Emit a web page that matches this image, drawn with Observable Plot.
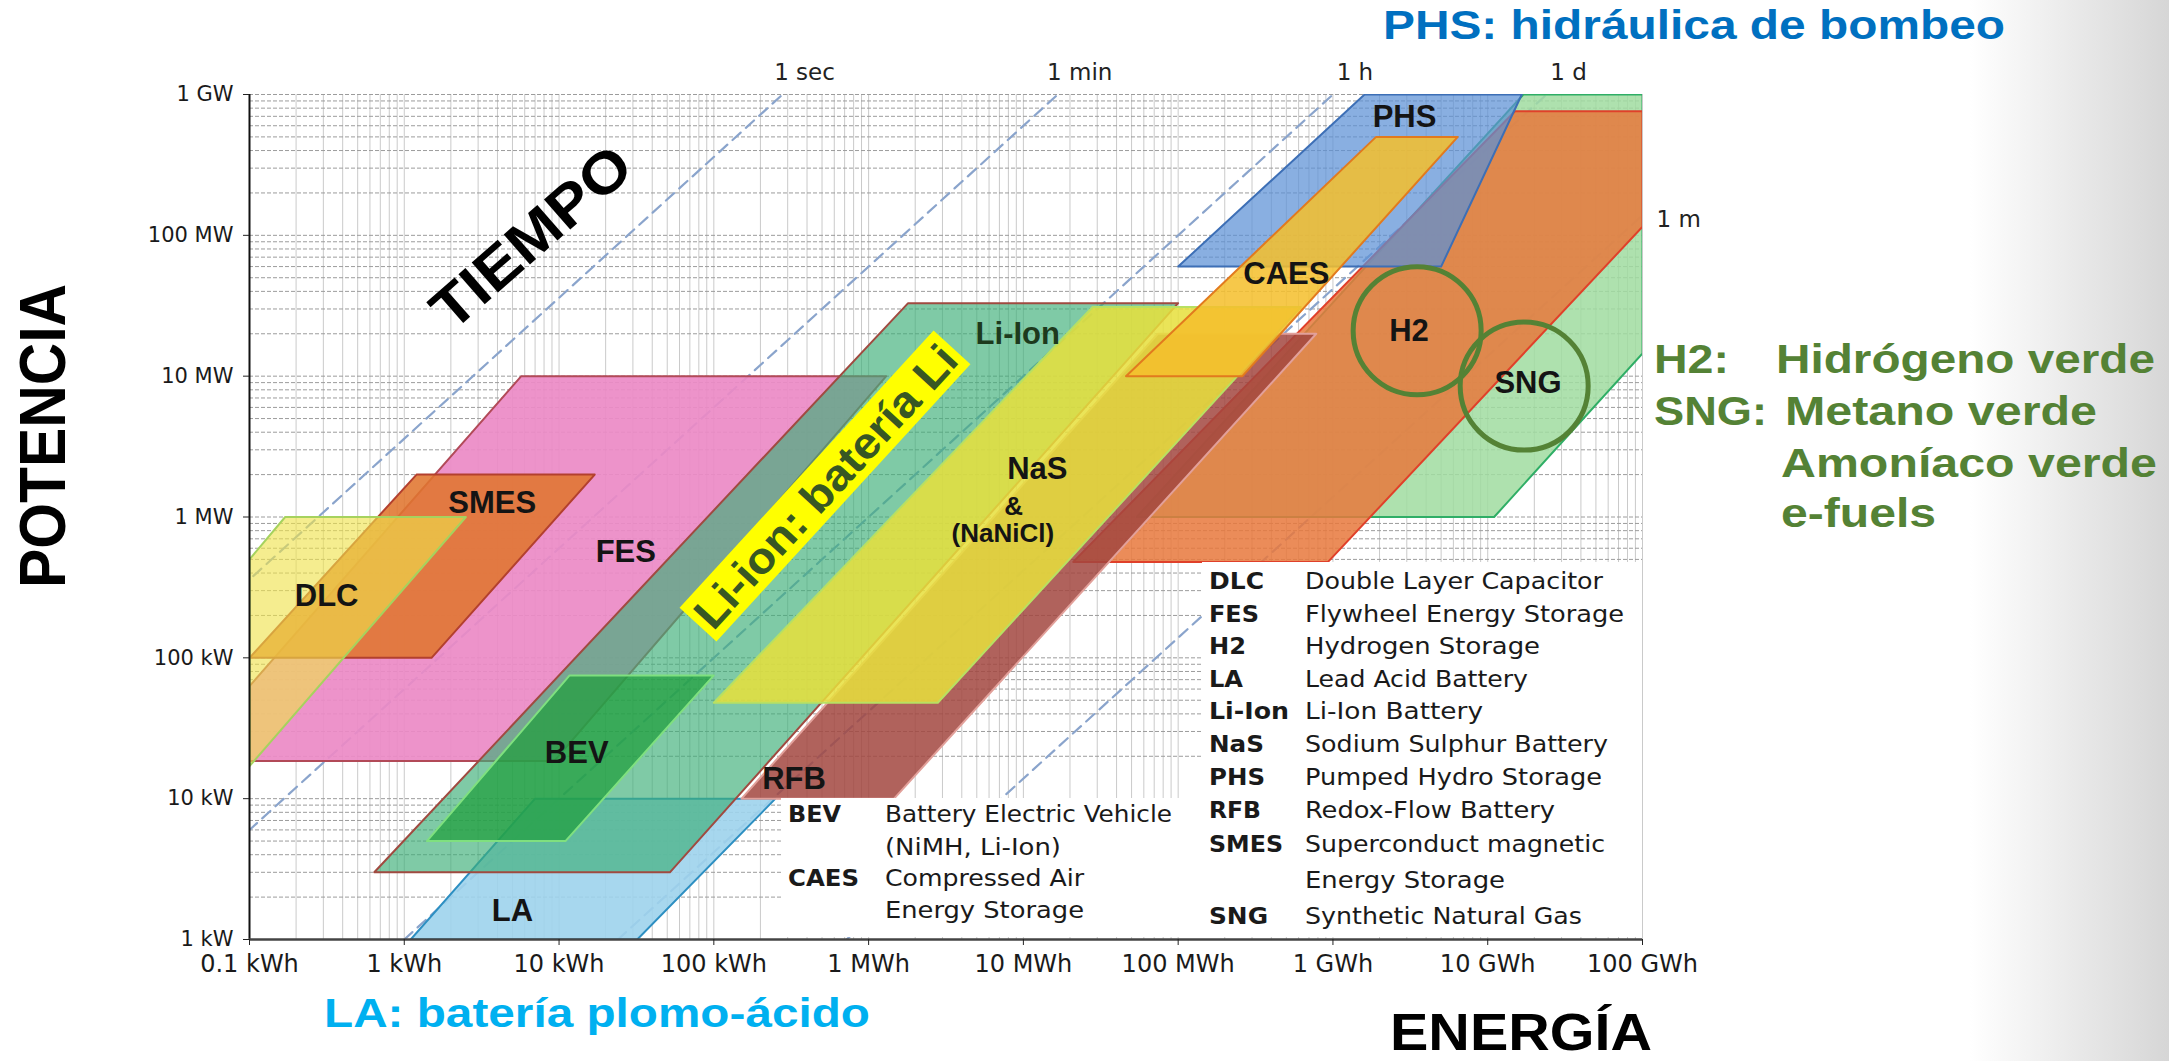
<!DOCTYPE html>
<html><head><meta charset="utf-8">
<script src="https://cdn.jsdelivr.net/npm/d3@7"></script>
<script src="https://cdn.jsdelivr.net/npm/@observablehq/plot@0.6"></script>
<style>
html,body{margin:0;padding:0;}
body{width:2169px;height:1061px;overflow:hidden;background:linear-gradient(to right,#ffffff 0px,#ffffff 1970px,#d6d6d6 2169px);font-family:"Liberation Sans",Arial,sans-serif;}
#wrap{position:relative;width:2169px;height:1061px;}
#wrap svg{position:absolute;left:0;top:0;}
</style></head><body><div id="wrap"></div>
<script>
// ---------- DATA (energy in kWh, power in kW) ----------
const energyTicks = [0.1, 1, 10, 100, 1e3, 1e4, 1e5, 1e6, 1e7, 1e8];
const energyTickLabels = ["0.1 kWh","1 kWh","10 kWh","100 kWh","1 MWh","10 MWh","100 MWh","1 GWh","10 GWh","100 GWh"];
const powerTicks = [1, 10, 100, 1e3, 1e4, 1e5, 1e6];
const powerTickLabels = ["1 kW","10 kW","100 kW","1 MW","10 MW","100 MW","1 GW"];

// technology regions: vertices [energy kWh, power kW]
const SNG  = [[5.4e4,1000],[1.1e7,1000],[1e8,1.45e4],[1e8,1e6],[1.7e7,1e6]];
const H2   = [[1.5e7,7.6e5],[1e8,7.6e5],[1e8,1.15e5],[9.3e5,480],[2.1e4,480]];
const PHS  = [[1e5,6e4],[5e6,6e4],[1.66e7,1e6],[1.6e6,1e6]];
const LA   = [[1.1,1],[32,1],[250,10],[7,10]];
const FES  = [[5.7,1e4],[1300,1e4],[9.3,18.5],[0.1,18.5],[0.1,63]];
const SMES = [[1.2,2000],[17,2000],[1.5,100],[0.1,100]];
const DLC  = [[0.17,1000],[2.5,1000],[0.1,17],[0.1,500]];
const LiIon= [[1800,3.3e4],[1e5,3.3e4],[52,3],[0.64,3]];
const BEV  = [[11.7,75],[100,75],[11,5],[1.4,5]];
const RFB  = [[151,10],[1460,10],[7.8e5,2e4],[7.4e4,2e4]];
const NaS  = [[100,48],[2800,48],[6.2e5,3.1e4],[2.8e4,3.1e4]];
const CAES = [[4.6e4,1e4],[2.6e5,1e4],[6.4e6,5e5],[1.9e6,5e5]];

// region labels
const labelNames  = ["DLC","SMES","FES","BEV","LA","RFB","NaS","CAES","PHS","H2","SNG"];
const labelEnergy = [0.315, 3.7, 27, 13, 5, 330, 12300, 5e5, 2.9e6, 3.1e6, 1.82e7];
const labelPower  = [275, 1250, 560, 21, 1.6, 13.8, 2200, 5.3e4, 6.9e5, 2.09e4, 8950];
const subLabelNames  = ["&","(NaNiCl)"];
const subLabelEnergy = [8650, 7360];
const subLabelPower  = [1180, 767];
const liLabel = {name:"Li-Ion", e:9200, p:2e4};

// highlight circles (H2, SNG)
const circleEnergy = [3.5e6, 1.72e7];
const circlePower  = [2.1e4, 8500];

// discharge-time reference lines (hours)
const timeNames = ["1 sec","1 min","1 h","1 d","1 m"];
const timeHours = [1/3600, 1/60, 1, 24, 720];

// legend texts
const legendAbbr = ["DLC","FES","H2","LA","Li-Ion","NaS","PHS","RFB","SMES","","SNG"];
const legendDesc = ["Double Layer Capacitor","Flywheel Energy Storage","Hydrogen Storage","Lead Acid Battery","Li-Ion Battery","Sodium Sulphur Battery","Pumped Hydro Storage","Redox-Flow Battery","Superconduct magnetic","Energy Storage","Synthetic Natural Gas"];
const legend2Abbr = ["BEV","","CAES",""];
const legend2Desc = ["Battery Electric Vehicle","(NiMH, Li-Ion)","Compressed Air","Energy Storage"];

// ---------- BUILD ----------
const toPts = (arr, name) => arr.map(([e,p]) => ({name, e, p}));
const decadesX = d3.range(-1, 8), decadesY = d3.range(0, 6);
const xGrid = decadesX.flatMap(d => d3.range(1,10).map(m => m * Math.pow(10,d))).concat([1e8]);
const yGrid = decadesY.flatMap(d => d3.range(1,10).map(m => m * Math.pow(10,d))).concat([1e6]);

const regionStyles = [
  ["SNG", SNG,  "#a0dca0", 0.85, "#2fae66"],
  ["H2",  H2,   "#e8783c", 0.85, "#e0402a"],
  ["PHS", PHS,  "#5b90d6", 0.72, "#3d6fb6"],
  ["LA",  LA,   "#9dd3ec", 0.9,  "#2d8fc2"],
  ["FES", FES,  "#ec8ac6", 0.92, "#b24a58"],
  ["SMES",SMES, "#e0752f", 0.88, "#b3402e"],
  ["DLC", DLC,  "#efe24a", 0.62, "#a6d25e"],
  ["LiIon",LiIon,"#3cae78", 0.66, "#a04a40"],
  ["BEV", BEV,  "#1f9e3c", 0.72, "#7fe07f"],
  ["RFB", RFB,  "#a2473f", 0.85, "#e2a09a"],
  ["NaS", NaS,  "#e7df3c", 0.86, "#b8e062"],
  ["CAES",CAES, "#f5bf2c", 0.86, "#e27a1e"]
];

const timeLines = timeNames.flatMap((name,i) => [
  {name, e: 1 * timeHours[i], p: 1},
  {name, e: 1e6 * timeHours[i], p: 1e6}
]);
const timeTop = timeNames.map((name,i)=>({name, e:1e6*timeHours[i], p:1e6})).filter(d => d.e <= 1e8);
const timeRight = timeNames.map((name,i)=>({name, e:1e8, p:1e8/timeHours[i]})).filter(d => d.p < 1e6);

const labels = labelNames.map((name,i)=>({name, e:labelEnergy[i], p:labelPower[i]}));
const subLabels = subLabelNames.map((name,i)=>({name, e:subLabelEnergy[i], p:subLabelPower[i]}));
const circles = circleEnergy.map((e,i)=>({e, p:circlePower[i]}));

const marks = [
  Plot.ruleX(xGrid, {stroke:"#cacaca", strokeWidth:1}),
  Plot.ruleY(yGrid, {stroke:"#9c9c9c", strokeWidth:1, strokeDasharray:"4,2"}),
  Plot.line(timeLines, {x:"e", y:"p", z:"name", stroke:"#8aa4cc", strokeWidth:2.2, strokeDasharray:"11,7", clip:true})
];
for (const [name, arr, fill, op, stroke] of regionStyles) {
  marks.push(Plot.line(toPts(arr,name), {x:"e", y:"p", curve:"linear-closed", fill, fillOpacity:op, stroke, strokeWidth:2, clip:true}));
}
marks.push(
  Plot.ruleX([0.1], {stroke:"#111", strokeWidth:2}),
  Plot.ruleY([1], {stroke:"#444", strokeWidth:2.5}),
  Plot.dot(circles, {x:"e", y:"p", r:64, stroke:"#548235", strokeWidth:5, fill:"none"}),
  Plot.text(labels, {x:"e", y:"p", text:"name", fontSize:31, fontWeight:"bold", fill:"#141414"}),
  Plot.text(subLabels, {x:"e", y:"p", text:"name", fontSize:26, fontWeight:"bold", fill:"#141414"}),
  Plot.text([liLabel], {x:"e", y:"p", text:"name", fontSize:31, fontWeight:"bold", fill:"#1d3a1d"}),
  Plot.text(timeTop, {x:"e", y:"p", text:"name", fontSize:23, fontFamily:"DejaVu Sans", fill:"#222", dx:22, dy:-22}),
  Plot.text(timeRight, {x:"e", y:"p", text:"name", fontSize:23, fontFamily:"DejaVu Sans", fill:"#222", textAnchor:"start", dx:14, dy:4}),
  Plot.axisX({ticks:energyTicks, tickFormat:d => energyTickLabels[energyTicks.indexOf(d)], tickSize:6, tickPadding:9, fontSize:24, fontFamily:"DejaVu Sans", fill:"#1a1a1a", label:null}),
  Plot.axisY({ticks:powerTicks, tickFormat:d => powerTickLabels[powerTicks.indexOf(d)], tickSize:6, tickPadding:10, fontSize:21, fontFamily:"DejaVu Sans", fill:"#1a1a1a", label:null})
);

const chart = Plot.plot({
  width:2169, height:1061,
  marginLeft:249, marginRight:527, marginTop:94, marginBottom:122,
  x:{type:"log", domain:[0.1,1e8]},
  y:{type:"log", domain:[1,1e6]},
  style:{background:"transparent", overflow:"visible", fontFamily:"Liberation Sans, Arial, sans-serif", color:"#222"},
  marks
});
document.getElementById("wrap").appendChild(chart);

// ---------- OVERLAY: legend boxes and annotations ----------
const ov = d3.create("svg").attr("width",2169).attr("height",1061).style("overflow","visible");
function T(x, y, s, o={}) {
  const t = ov.append("text").attr("x",x).attr("y",y).text(s)
    .attr("font-family", o.family || "Liberation Sans, Arial, sans-serif")
    .attr("font-size", o.size || 20).attr("font-weight", o.weight || "normal")
    .attr("fill", o.fill || "#111").attr("text-anchor", o.anchor || "start");
  if (o.len) t.attr("textLength", o.len).attr("lengthAdjust","spacingAndGlyphs");
  if (o.transform) t.attr("transform", o.transform);
  return t;
}
// legend boxes
ov.append("rect").attr("x",1202).attr("y",562).attr("width",440).attr("height",375).attr("fill","#fff");
ov.append("rect").attr("x",781).attr("y",798).attr("width",422).attr("height",139).attr("fill","#fff");
const legY = [589,622,654,687,719,752,785,818,852,888,924];
const legAbbrLen = [55,50,37,34,80,55,56,52,74,0,59];
const legDescLen = [298,319,235,223,178,303,297,250,300,200,277];
legendAbbr.forEach((s,i)=>{ if(s) T(1209, legY[i], s, {family:"DejaVu Sans Condensed, DejaVu Sans", size:23, weight:"bold", fill:"#1a1a1a", len:legAbbrLen[i]}); });
legendDesc.forEach((s,i)=> T(1305, legY[i], s, {family:"DejaVu Sans Condensed, DejaVu Sans", size:23, fill:"#1a1a1a", len:legDescLen[i]}));
const leg2Y = [822,855,886,918];
const leg2AbbrLen = [53,0,71,0];
const leg2DescLen = [287,176,199,199];
legend2Abbr.forEach((s,i)=>{ if(s) T(788, leg2Y[i], s, {family:"DejaVu Sans Condensed, DejaVu Sans", size:23, weight:"bold", fill:"#1a1a1a", len:leg2AbbrLen[i]}); });
legend2Desc.forEach((s,i)=> T(885, leg2Y[i], s, {family:"DejaVu Sans Condensed, DejaVu Sans", size:23, fill:"#1a1a1a", len:leg2DescLen[i]}));

// Li-ion highlighted label
const g = ov.append("g").attr("transform","translate(825,486) rotate(-47.5)");
g.append("rect").attr("x",-188).attr("y",-25).attr("width",376).attr("height",50).attr("fill","#ffff00");
g.append("text").attr("x",0).attr("y",16).attr("text-anchor","middle").attr("font-family","Liberation Sans, Arial, sans-serif")
  .attr("font-size",44).attr("font-weight","bold").attr("fill","#385723")
  .attr("textLength",366).attr("lengthAdjust","spacingAndGlyphs").text("Li-ion: batería Li");

// axis titles / annotations
T(0,0,"POTENCIA",{size:64, weight:"bold", fill:"#000", anchor:"middle", len:304, transform:"translate(65,436) rotate(-90)"});
T(0,0,"TIEMPO",{size:58, weight:"bold", fill:"#000", anchor:"middle", len:245, transform:"translate(531,237) rotate(-41.2) translate(0,20)"});
T(1390,1050,"ENERGÍA",{size:52, weight:"bold", fill:"#000", len:262});
T(324,1027,"LA: batería plomo-ácido",{size:41, weight:"bold", fill:"#00b0f0", len:546});
T(1383,39,"PHS: hidráulica de bombeo",{size:41, weight:"bold", fill:"#0070c0", len:622});
T(1654,373,"H2:",{size:41, weight:"bold", fill:"#548235", len:75});
T(1776,373,"Hidrógeno verde",{size:41, weight:"bold", fill:"#548235", len:379});
T(1654,425,"SNG:",{size:41, weight:"bold", fill:"#548235", len:113});
T(1785,425,"Metano verde",{size:41, weight:"bold", fill:"#548235", len:312});
T(1781,477,"Amoníaco verde",{size:41, weight:"bold", fill:"#548235", len:376});
T(1781,527,"e-fuels",{size:41, weight:"bold", fill:"#548235", len:155});

document.getElementById("wrap").appendChild(ov.node());
</script>
</body></html>
